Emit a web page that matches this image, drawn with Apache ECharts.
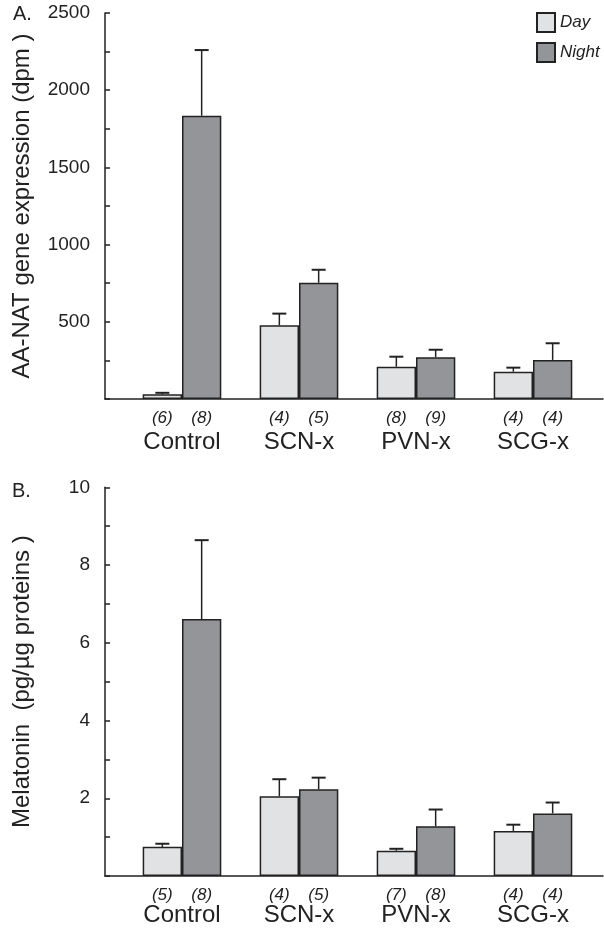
<!DOCTYPE html>
<html>
<head>
<meta charset="utf-8">
<script src="https://cdn.jsdelivr.net/npm/echarts@6/dist/echarts.min.js"></script>
<style>
html,body{margin:0;padding:0;background:#fff;}
#chart{width:604px;height:931px;}
</style>
</head>
<body>
<div id="chart"></div>
<script>
const categories = ['Control', 'SCN-x', 'PVN-x', 'SCG-x'];

const aanatDay = [30, 477, 209, 177];
const aanatDayErr = [10, 76, 65, 26];
const aanatNight = [1835, 753, 270, 253];
const aanatNightErr = [425, 84, 49, 108];
const aanatDayN = ['(6)', '(4)', '(8)', '(4)'];
const aanatNightN = ['(8)', '(5)', '(9)', '(4)'];

const melDay = [0.75, 2.05, 0.65, 1.16];
const melDayErr = [0.08, 0.44, 0.05, 0.16];
const melNight = [6.61, 2.23, 1.28, 1.61];
const melNightErr = [2.03, 0.30, 0.43, 0.28];
const melDayN = ['(5)', '(4)', '(7)', '(4)'];
const melNightN = ['(8)', '(5)', '(8)', '(4)'];

const aanatTickLabels = [500, 1000, 1500, 2000, 2500];
const melTickLabels = [2, 4, 6, 8, 10];

const FONT = "'Liberation Sans', Arial, Helvetica, sans-serif";
const INK = '#222';
const DAY_FILL = '#e1e2e4';
const NIGHT_FILL = '#949599';
const CAT_GAP = 0.328;

const chart = echarts.init(document.getElementById('chart'));

function frameY(gridIndex, max, interval, labels, name) {
  return {
    gridIndex: gridIndex, type: 'value', min: 0, max: max, interval: interval,
    axisLine: {show: true, lineStyle: {color: INK, width: 1.5}},
    axisTick: {show: true, inside: true, length: 5, lineStyle: {color: INK, width: 1.5}},
    axisLabel: {
      margin: 15, color: INK, fontSize: 19, fontFamily: FONT,
      formatter: v => labels.includes(v) ? String(v) : ''
    },
    splitLine: {show: false},
    name: name, nameLocation: 'middle', nameRotate: 90, nameGap: 71,
    nameTextStyle: {fontSize: 24, color: INK, fontFamily: FONT}
  };
}
function frameX(gridIndex) {
  return {
    gridIndex: gridIndex, type: 'value', min: 0, max: 1,
    axisLine: {show: true, onZero: false, lineStyle: {color: INK, width: 1.5}},
    axisTick: {show: false}, axisLabel: {show: false}, splitLine: {show: false}
  };
}
function barX(gridIndex, margin) {
  return {
    gridIndex: gridIndex, type: 'category', data: categories,
    axisLine: {show: false}, axisTick: {show: false},
    axisLabel: {margin: margin, color: INK, fontSize: 24, fontFamily: FONT}
  };
}
function barY(gridIndex, max, interval) {
  return {
    gridIndex: gridIndex, type: 'value', min: 0, max: max, interval: interval, show: false,
    splitLine: {show: false}
  };
}
function bars(name, values, nLabels, axisIdx, fill) {
  return {
    type: 'bar', name: name, xAxisIndex: axisIdx, yAxisIndex: axisIdx,
    data: values, barGap: '0%', barCategoryGap: (CAT_GAP * 100) + '%',
    itemStyle: {color: fill, borderColor: INK, borderWidth: 1.5},
    label: {
      show: true, position: 'bottom', distance: 11,
      formatter: p => nLabels[p.dataIndex],
      fontStyle: 'italic', fontSize: 17, color: INK, fontFamily: FONT
    },
    emphasis: {disabled: true}
  };
}
function errData(dayV, dayE, nightV, nightE) {
  const d = [];
  dayV.forEach((v, i) => d.push([i, 0, v, dayE[i]]));
  nightV.forEach((v, i) => d.push([i, 1, v, nightE[i]]));
  return d;
}
function errSeries(axisIdx, data) {
  return {
    type: 'custom', xAxisIndex: axisIdx, yAxisIndex: axisIdx, z: 5,
    data: data, encode: {x: 0, y: 2}, silent: true,
    renderItem: function (params, api) {
      const c = api.value(0), s = api.value(1), v = api.value(2), e = api.value(3);
      const base = api.coord([c, v]);
      const top = api.coord([c, v + e]);
      const band = api.size([1, 0])[0];
      const bw = band * (1 - CAT_GAP) / 2;
      const x = base[0] + (s === 0 ? -bw / 2 : bw / 2);
      const cap = 7;
      return {
        type: 'group',
        children: [
          {type: 'line', shape: {x1: x, y1: base[1], x2: x, y2: top[1]},
           style: {stroke: INK, lineWidth: 1.5}},
          {type: 'line', shape: {x1: x - cap, y1: top[1], x2: x + cap, y2: top[1]},
           style: {stroke: INK, lineWidth: 2}}
        ]
      };
    }
  };
}

const option = {
  animation: false,
  backgroundColor: '#fff',
  title: [
    {text: 'A.', left: 13, top: 4, padding: 0, textStyle: {fontSize: 20, fontWeight: 'normal', color: INK, fontFamily: FONT}},
    {text: 'B.', left: 12, top: 481, padding: 0, textStyle: {fontSize: 20, fontWeight: 'normal', color: INK, fontFamily: FONT}}
  ],
  legend: {
    data: ['Day', 'Night'], orient: 'vertical', left: 536, top: 12, padding: 0,
    itemWidth: 18, itemHeight: 19, itemGap: 9, selectedMode: false,
    icon: 'rect',
    textStyle: {fontStyle: 'italic', fontSize: 17, color: INK, fontFamily: FONT}
  },
  grid: [
    {left: 105, right: 1, top: 13, bottom: 532},
    {left: 123.5, right: 12.5, top: 13, bottom: 532},
    {left: 105, right: 1, top: 487.3, bottom: 55},
    {left: 123.5, right: 12.5, top: 487.3, bottom: 55}
  ],
  xAxis: [frameX(0), barX(1, 31), frameX(2), barX(3, 27)],
  yAxis: [
    frameY(0, 2500, 250, aanatTickLabels, 'AA-NAT gene expression (dpm )'),
    barY(1, 2500, 250),
    frameY(2, 10, 1, melTickLabels, 'Melatonin  (pg/µg proteins )'),
    barY(3, 10, 1)
  ],
  series: [
    bars('Day', aanatDay, aanatDayN, 1, DAY_FILL),
    bars('Night', aanatNight, aanatNightN, 1, NIGHT_FILL),
    errSeries(1, errData(aanatDay, aanatDayErr, aanatNight, aanatNightErr)),
    bars('Day', melDay, melDayN, 3, DAY_FILL),
    bars('Night', melNight, melNightN, 3, NIGHT_FILL),
    errSeries(3, errData(melDay, melDayErr, melNight, melNightErr))
  ]
};
chart.setOption(option);
</script>
</body>
</html>
